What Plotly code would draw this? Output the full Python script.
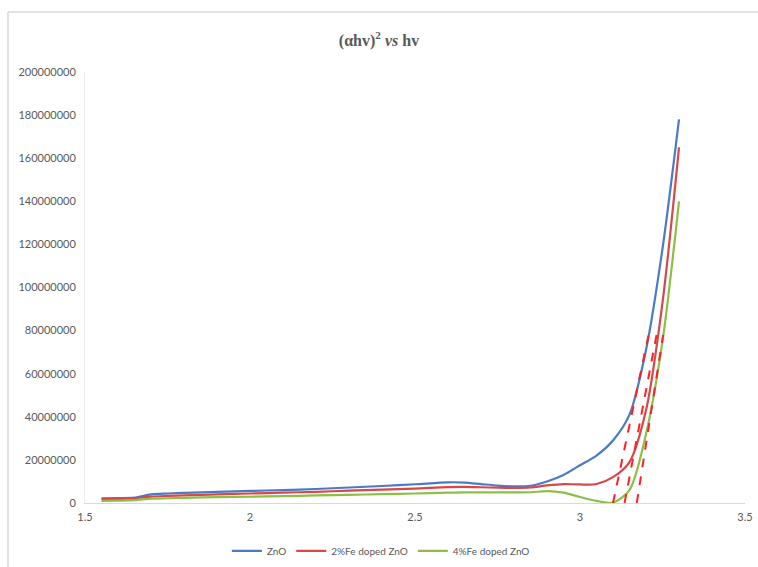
import plotly.graph_objects as go

# Photon energy hv (eV)
energy = [1.55, 1.60, 1.65, 1.70, 1.75, 1.80, 1.90, 2.00, 2.10, 2.20, 2.30, 2.40,
          2.50, 2.60, 2.65, 2.70, 2.75, 2.80, 2.85, 2.90, 2.95, 3.00, 3.05, 3.10,
          3.15, 3.20, 3.25, 3.30]

# (alpha*hv)^2 for each sample
zno = [2.2e6, 2.3e6, 2.5e6, 4.0e6, 4.4e6, 4.7e6, 5.2e6, 5.6e6, 6.0e6, 6.5e6, 7.2e6, 7.9e6,
       8.7e6, 9.6e6, 9.5e6, 8.8e6, 8.1e6, 7.7e6, 8.0e6, 10.0e6, 13.0e6, 17.5e6, 22e6, 29e6,
       41e6, 71e6, 118e6, 178e6]
fe2 = [1.8e6, 1.9e6, 2.1e6, 3.0e6, 3.3e6, 3.5e6, 4.0e6, 4.4e6, 4.8e6, 5.2e6, 5.7e6, 6.2e6,
       6.7e6, 7.4e6, 7.5e6, 7.3e6, 7.1e6, 7.0e6, 7.2e6, 8.2e6, 8.8e6, 8.6e6, 8.8e6, 12e6,
       19e6, 43e6, 93e6, 165e6]
fe4 = [1.0e6, 1.1e6, 1.3e6, 2.0e6, 2.2e6, 2.4e6, 2.7e6, 2.9e6, 3.2e6, 3.5e6, 3.8e6, 4.1e6,
       4.4e6, 4.8e6, 4.9e6, 4.9e6, 4.9e6, 4.9e6, 5.0e6, 5.5e6, 4.8e6, 2.8e6, 1.0e6, 0.2e6,
       6e6, 32e6, 75e6, 140e6]

series_names = ["ZnO", "2%Fe doped ZnO", "4%Fe doped ZnO"]
series_colors = ["#4A7BC6", "#D8484B", "#8DBF47"]

# Linear extrapolations of the absorption edges (band-gap intercepts)
tangent_x0 = [3.10, 3.135, 3.172]
tangent_x1 = [3.212, 3.232, 3.252]
tangent_y1 = [81e6, 78e6, 78e6]

fig = go.Figure()
for name, ys, col in zip(series_names, [zno, fe2, fe4], series_colors):
    fig.add_trace(go.Scatter(x=energy, y=ys, mode="lines", name=name,
                             line=dict(color=col, width=2.2, shape="spline", smoothing=0.8)))

for x0, x1, y1 in zip(tangent_x0, tangent_x1, tangent_y1):
    fig.add_trace(go.Scatter(x=[x0, x1], y=[0, y1], mode="lines", showlegend=False,
                             hoverinfo="skip",
                             line=dict(color="#FF2020", width=2, dash="dash")))

grey = "#595959"
fig.update_layout(
    width=758, height=567,
    margin=dict(l=85, r=13, t=72, b=64, autoexpand=False),
    paper_bgcolor="white", plot_bgcolor="white",
    title=dict(text="(αhv)<sup>2</sup> <i>vs</i> hv", x=0.5, xanchor="center",
               y=1 - 40 / 567, yanchor="middle",
               font=dict(family="Liberation Serif", size=16, color=grey, weight="bold")),
    font=dict(family="Lato", size=10, color=grey),
    legend=dict(orientation="h", x=0.215, xanchor="left", y=-0.111, yanchor="middle",
                font=dict(family="Lato", size=10, color=grey), itemwidth=30),
    showlegend=True,
)
fig.update_xaxes(range=[1.5, 3.5], dtick=0.5, tick0=1.5, showgrid=False, zeroline=False,
                 showline=True, linecolor="#D9D9D9", linewidth=1, ticks="", automargin=False,
                 ticklabelstandoff=4,
                 tickfont=dict(family="Lato", size=11, color=grey))
fig.update_yaxes(range=[0, 200e6], dtick=20e6, tickformat="d", showgrid=False, zeroline=False,
                 showline=True, linecolor="#EDEDED", linewidth=1, ticks="", automargin=False,
                 ticklabelstandoff=6,
                 tickfont=dict(family="Lato", size=11, color=grey))

# Outer chart frame: left and top edges
frame_left = (8 - 85) / 660
frame_right = (758 - 85) / 660
frame_top = (503 - 12) / 431
frame_bottom = (503 - 567) / 431
fig.add_shape(type="line", xref="paper", yref="paper",
              x0=frame_left, x1=frame_left, y0=frame_bottom, y1=frame_top,
              line=dict(color="#D9D9D9", width=1.5), layer="below")
fig.add_shape(type="line", xref="paper", yref="paper",
              x0=frame_left, x1=frame_right, y0=frame_top, y1=frame_top,
              line=dict(color="#D9D9D9", width=1.5), layer="below")

fig.write_html("out.html")
